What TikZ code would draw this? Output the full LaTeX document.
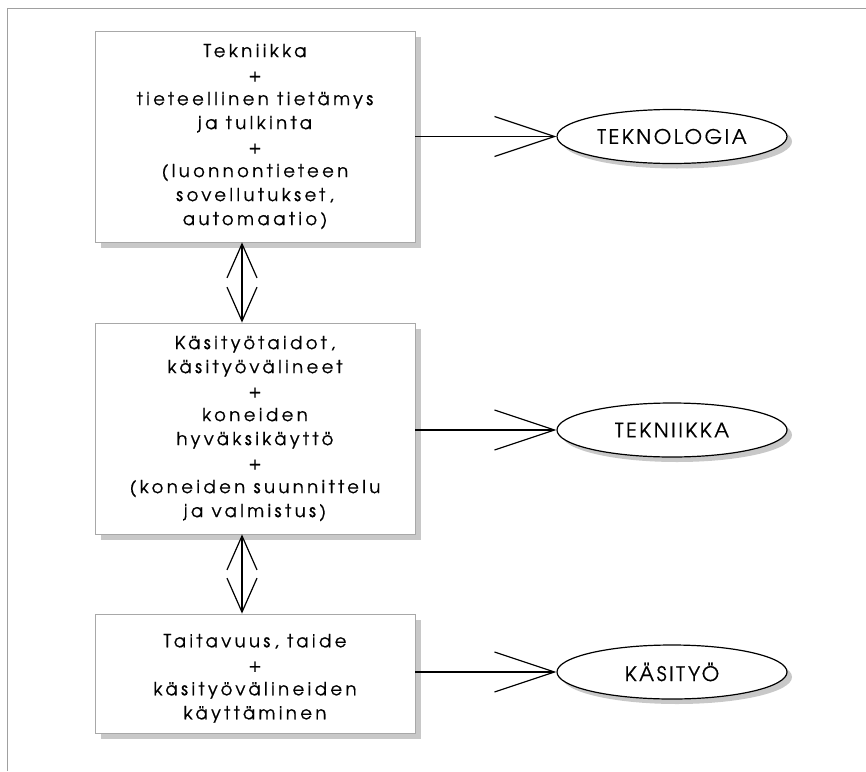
\documentclass[tikz,border=0pt]{standalone}
\usepackage{fontspec}
\setmainfont{TeX Gyre Adventor}
\newfontfamily\boxfont{TeX Gyre Adventor}[LetterSpace=19, FakeBold=0.6]
\newfontfamily\termfont{TeX Gyre Adventor}[LetterSpace=13, FakeBold=0.6]
\usetikzlibrary{arrows.meta,shapes.geometric,shadows}
\definecolor{framegray}{HTML}{A0A0A0}
\definecolor{boxgray}{HTML}{A8A8A8}
\definecolor{shadowgray}{HTML}{C8C8C8}
\begin{document}
\begin{tikzpicture}[x=1pt,y=-1pt,
  box/.style={draw=boxgray, line width=0.8pt, fill=white, minimum width=320pt,
    minimum height=211pt, align=center, inner sep=0pt,
    font=\boxfont\fontsize{18}{24}\selectfont,
    drop shadow={shadow xshift=6pt, shadow yshift=-6pt, fill=shadowgray, opacity=1}},
  term/.style={ellipse, draw=black, line width=1.2pt, fill=white, minimum width=230pt,
    minimum height=54pt, inner sep=0pt, font=\termfont\fontsize{20}{20}\selectfont,
    drop shadow={shadow xshift=5pt, shadow yshift=-5pt, fill=shadowgray, opacity=1}},
  leads/.style={draw=black, line width=1.2pt, -{Straight Barb[length=60pt,width=40pt]}},
  both/.style={draw=black, line width=1.2pt,
    {Straight Barb[length=34pt,width=30pt]}-{Straight Barb[length=34pt,width=30pt]}}
]
\useasboundingbox (0,0) rectangle (866,771);
% outer frame
\draw[framegray, line width=0.9pt] (7,771) -- (7,8) -- (866,8);

% the three levels
\node[box] (b1) at (255,136.5) {Tekniikka\\+\\tieteellinen tietämys\\ja tulkinta\\+\\(luonnontieteen\\sovellutukset,\\automaatio)};
\node[box] (b2) at (255,428.5) {Käsityötaidot,\\käsityövälineet\\+\\koneiden\\hyväksikäyttö\\+\\(koneiden suunnittelu\\ja valmistus)};
% the strut on the first line sets the block a little lower in its box
\node[box, minimum height=119pt] (b3) at (255,673.5) {\rule{0pt}{23pt}Taitavuus, taide\\+\\käsityövälineiden\\käyttäminen};

% resulting concepts
\node[term] (e1) at (672,136.5) {TEKNOLOGIA};
\node[term] (e2) at (672,430) {TEKNIIKKA};
\node[term] (e3) at (672,672) {KÄSITYÖ};

% connectors
\draw[leads] (b1.east) -- (e1.west);
\draw[leads] (b2.east |- e2.west) -- (e2.west);
\draw[leads] (b3.east |- e3.west) -- (e3.west);
\draw[both] ([xshift=-13pt]b1.south) -- ([xshift=-13pt]b2.north);
\draw[both] ([xshift=-13pt]b2.south) -- ([xshift=-13pt]b3.north);
\end{tikzpicture}
\end{document}
